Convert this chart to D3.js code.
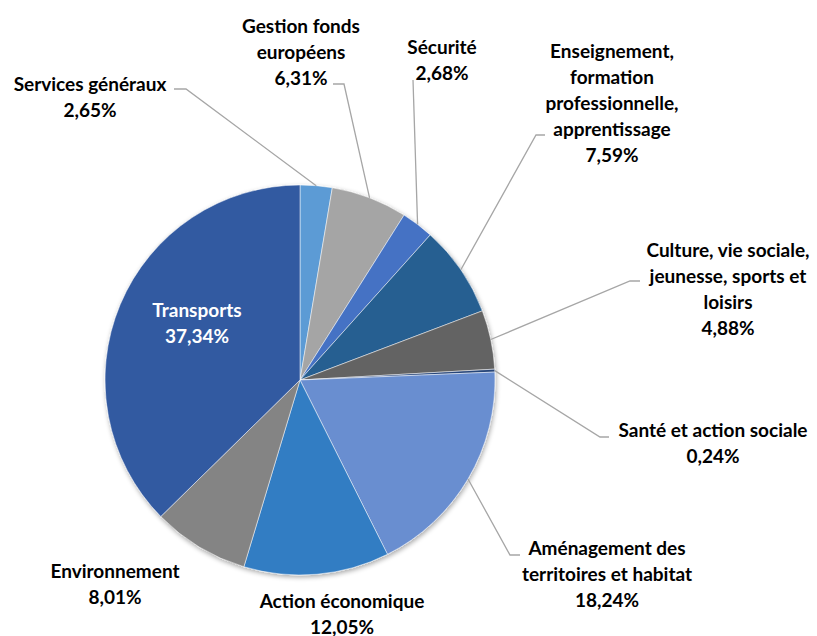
<!DOCTYPE html>
<html><head><meta charset="utf-8">
<script src="https://cdn.jsdelivr.net/npm/d3@7"></script>
<style>body{margin:0;background:#fff}svg{display:block}text{font-family:Lato,"Open Sans",sans-serif;font-weight:bold;font-size:19px}</style>
</head><body>
<svg id="c" width="817" height="636"></svg>
<script>
const categories = ["Services généraux","Gestion fonds européens","Sécurité","Enseignement, formation professionnelle, apprentissage","Culture, vie sociale, jeunesse, sports et loisirs","Santé et action sociale","Aménagement des territoires et habitat","Action économique","Environnement","Transports"];
const values = [2.65,6.31,2.68,7.59,4.88,0.24,18.24,12.05,8.01,37.34];
const colors = ["#5B9BD5","#A5A5A5","#4472C4","#255E91","#636363","#264478","#698ED0","#337DC3","#848484","#335AA1"];
const labelLines = [
  ["Services généraux"],
  ["Gestion fonds","européens"],
  ["Sécurité"],
  ["Enseignement,","formation","professionnelle,","apprentissage"],
  ["Culture, vie sociale,","jeunesse, sports et","loisirs"],
  ["Santé et action sociale"],
  ["Aménagement des","territoires et habitat"],
  ["Action économique"],
  ["Environnement"],
  ["Transports"]
];
// label layout: [centerX, first baseline, leader start x, leader y, elbow x]
const labelPos = [
  [90, 91, 174, 89, 186],
  [301, 33, 333, 84, 344],
  [442, 54, 413, 80, 413],
  [612, 58, 545, 135, 536],
  [728, 257, 640, 281, 630],
  [713, 437, 609, 437, 600],
  [607, 555, 520, 555, 510],
  [342, 608, null],
  [115, 578, null],
  [197, 317, null]
];
const cx = 300, cy = 380, R = 195;
const svg = d3.select("#c");
const defs = svg.append("defs");
const f = defs.append("filter").attr("id","sh").attr("x","-20%").attr("y","-20%").attr("width","140%").attr("height","140%");
f.append("feGaussianBlur").attr("in","SourceAlpha").attr("stdDeviation",2.5);
f.append("feOffset").attr("dx",1).attr("dy",2).attr("result","b");
f.append("feComponentTransfer").append("feFuncA").attr("type","linear").attr("slope",0.35);
const m = f.append("feMerge"); m.append("feMergeNode"); m.append("feMergeNode").attr("in","SourceGraphic");

const pie = d3.pie().sort(null).value(d => d);
const arcs = pie(values);
const arc = d3.arc().innerRadius(0).outerRadius(R);
const g = svg.append("g").attr("transform",`translate(${cx},${cy})`);
g.append("g").attr("filter","url(#sh)").selectAll("path").data(arcs).join("path")
  .attr("d", arc).attr("fill",(d,i)=>colors[i]).attr("stroke","#fff").attr("stroke-width",0.5);

const fmt = v => v.toFixed(2).replace(".",",") + "%";
const lh = 26;
arcs.forEach((a,i)=>{
  const p = labelPos[i];
  if (p[2] !== null) {
    const mid = (a.startAngle + a.endAngle)/2;
    const ex = cx + Math.sin(mid)*R, ey = cy - Math.cos(mid)*R;
    svg.append("polyline").attr("points",`${p[2]},${p[3]} ${p[4]},${p[3]} ${ex},${ey}`)
      .attr("fill","none").attr("stroke","#A6A6A6").attr("stroke-width",1.3);
  }
  const lines = labelLines[i].concat([fmt(values[i])]);
  const t = svg.append("text").attr("text-anchor","middle").attr("fill", i===9?"#fff":"#000");
  lines.forEach((l,k)=>t.append("tspan").attr("x",p[0]).attr("y",p[1]+k*lh).text(l));
});
</script>
</body></html>
